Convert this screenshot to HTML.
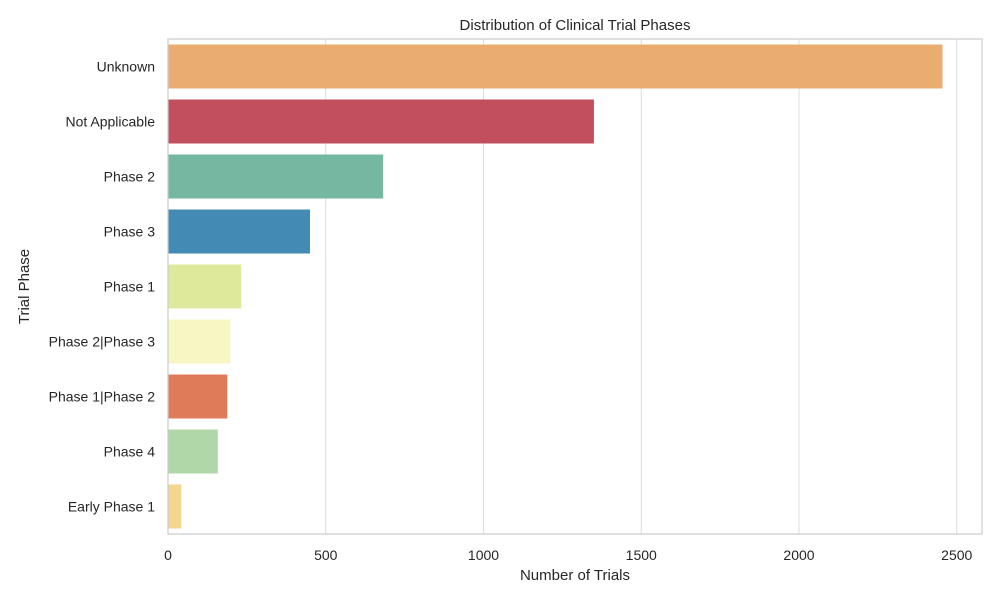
<!DOCTYPE html>
<html><head><meta charset="utf-8"><style>
body{margin:0;background:#fff;font-family:"Liberation Sans","DejaVu Sans",sans-serif;}
</style></head><body>
<svg id="chart" width="1000" height="600" font-family="Liberation Sans, DejaVu Sans, sans-serif"></svg>
<script>
const categories=["Unknown","Not Applicable","Phase 2","Phase 3","Phase 1","Phase 2|Phase 3","Phase 1|Phase 2","Phase 4","Early Phase 1"];
const values=[2455,1350,682,450,232,197,188,158,42];
const colors=["#eaac70","#c24f5d","#74b8a1","#438ab4","#dfe99c","#f6f7c2","#e07b59","#b0d7a8","#f4d68f"];
const xTicks=[0,500,1000,1500,2000,2500];
const NS="http://www.w3.org/2000/svg";
const svg=document.getElementById('chart');
const L=168,R=982,T=39,B=534;
const x=v=>L+v*0.3155;
const band=(B-T)/categories.length;
const yc=i=>T+band*(i+0.5);
function mk(t,a,p){const e=document.createElementNS(NS,t);for(const k in a)e.setAttribute(k,a[k]);(p||svg).appendChild(e);return e;}
const grid=mk('g',{});


xTicks.forEach(t=>{
 const l=mk('line',{x1:x(t),x2:x(t),y1:T,y2:B,stroke:"#dcdcdc","stroke-width":1},grid);
 
 
 const tx=mk('text',{x:x(t),y:B+26,"text-anchor":"middle","font-size":14,fill:"#262626"});
 tx.textContent=t;
 
 
});
categories.forEach((c,i)=>{
 const r=mk('rect',{x:L,y:yc(i)-band*0.4,width:x(values[i])-L,height:band*0.8,fill:colors[i]});
 
 
 const tx=mk('text',{x:L-13,y:yc(i)+5,"text-anchor":"end","font-size":14,fill:"#262626"});
 tx.textContent=c;
 
 
});
const fr=mk('rect',{x:L,y:T,width:R-L,height:B-T,fill:"none",stroke:"#cccccc","stroke-width":1.2});


const ti=mk('text',{x:(L+R)/2,y:30,"text-anchor":"middle","font-size":15,fill:"#262626"});
ti.textContent="Distribution of Clinical Trial Phases";


const xl=mk('text',{x:(L+R)/2,y:580,"text-anchor":"middle","font-size":15,fill:"#262626"});
xl.textContent="Number of Trials";


const yl=mk('text',{x:29,y:(T+B)/2,"text-anchor":"middle","font-size":15,fill:"#262626",transform:`rotate(-90 29 ${(T+B)/2})`});
yl.textContent="Trial Phase";


</script>
</body></html>
